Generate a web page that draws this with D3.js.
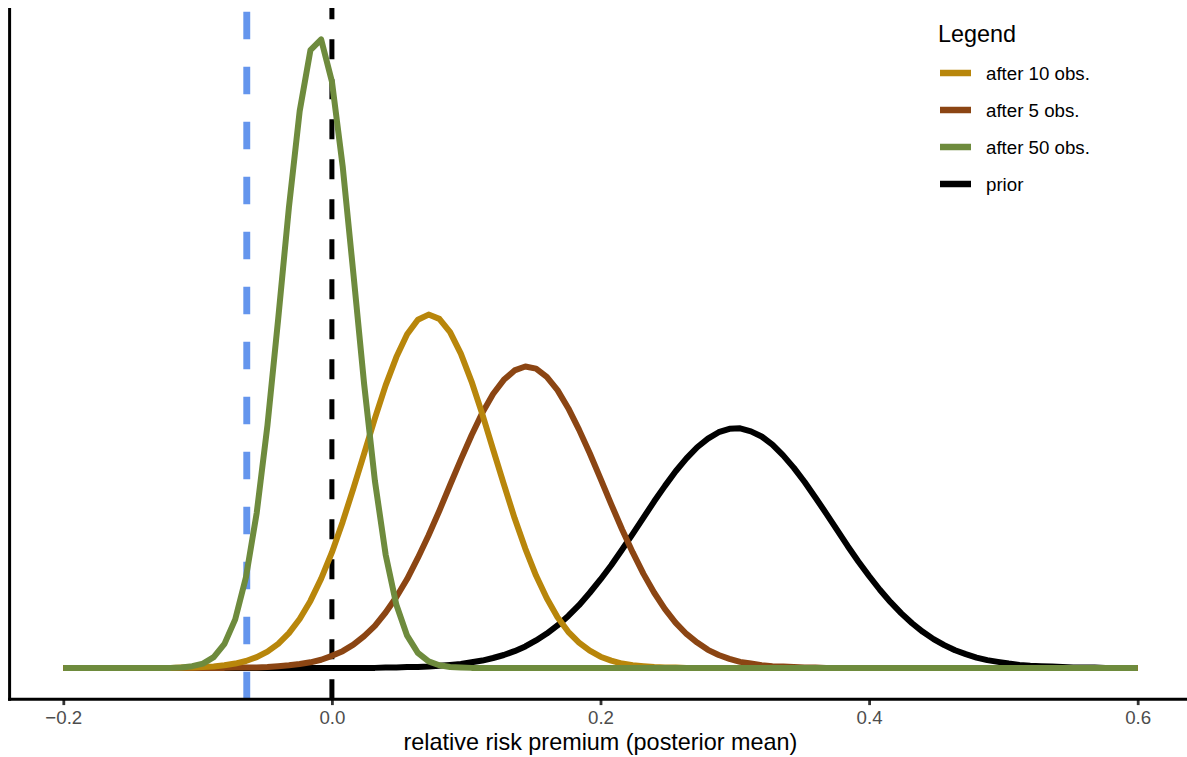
<!DOCTYPE html>
<html>
<head>
<meta charset="utf-8">
<script src="https://cdn.jsdelivr.net/npm/d3@7"></script>
<style>
  html, body { margin: 0; padding: 0; background: #ffffff; }
  svg { display: block; font-family: "Liberation Sans", Arial, Helvetica, sans-serif; }
</style>
</head>
<body>
<svg id="chart" width="1187" height="757"></svg>
<script>
// Evaluation grid for the densities (relative risk premium)
const xGrid = [
  -0.2, -0.192, -0.184, -0.176, -0.168, -0.16, -0.152, -0.144, -0.136, -0.128,
  -0.12, -0.112, -0.104, -0.096, -0.088, -0.08, -0.072, -0.064, -0.056, -0.048,
  -0.04, -0.032, -0.024, -0.016, -0.008, 0, 0.008, 0.016, 0.024, 0.032,
  0.04, 0.048, 0.056, 0.064, 0.072, 0.08, 0.088, 0.096, 0.104, 0.112,
  0.12, 0.128, 0.136, 0.144, 0.152, 0.16, 0.168, 0.176, 0.184, 0.192,
  0.2, 0.208, 0.216, 0.224, 0.232, 0.24, 0.248, 0.256, 0.264, 0.272,
  0.28, 0.288, 0.296, 0.304, 0.312, 0.32, 0.328, 0.336, 0.344, 0.352,
  0.36, 0.368, 0.376, 0.384, 0.392, 0.4, 0.408, 0.416, 0.424, 0.432,
  0.44, 0.448, 0.456, 0.464, 0.472, 0.48, 0.488, 0.496, 0.504, 0.512,
  0.52, 0.528, 0.536, 0.544, 0.552, 0.56, 0.568, 0.576, 0.584, 0.592,
  0.6
];

// Prior density
const prior = [
  0, 0, 0, 0, 0, 0, 0, 0, 0, 0,
  0, 0, 0, 0, 0, 0, 0, 0, 0, 0,
  0, 0, 0, 0, 0, 0, 0, 0, 0, 0,
  0.01, 0.01, 0.02, 0.02, 0.03, 0.05, 0.07, 0.09, 0.13, 0.17,
  0.23, 0.30, 0.39, 0.50, 0.64, 0.80, 0.99, 1.21, 1.46, 1.75,
  2.06, 2.39, 2.75, 3.12, 3.50, 3.88, 4.24, 4.58, 4.88, 5.14,
  5.34, 5.49, 5.57, 5.58, 5.51, 5.39, 5.20, 4.95, 4.66, 4.33,
  3.97, 3.60, 3.22, 2.84, 2.48, 2.14, 1.82, 1.53, 1.27, 1.04,
  0.84, 0.67, 0.53, 0.41, 0.32, 0.24, 0.18, 0.14, 0.10, 0.07,
  0.05, 0.04, 0.03, 0.02, 0.01, 0.01, 0.01, 0, 0, 0,
  0
];

// Posterior density after 5 observations
const after5 = [
  0, 0, 0, 0, 0, 0, 0, 0, 0, 0,
  0, 0, 0, 0, 0, 0, 0.01, 0.01, 0.01, 0.02,
  0.04, 0.06, 0.09, 0.13, 0.19, 0.28, 0.39, 0.54, 0.74, 0.98,
  1.29, 1.65, 2.07, 2.56, 3.09, 3.66, 4.26, 4.85, 5.42, 5.94,
  6.38, 6.71, 6.93, 7.02, 6.97, 6.78, 6.47, 6.05, 5.55, 5.00,
  4.41, 3.81, 3.23, 2.69, 2.19, 1.75, 1.37, 1.05, 0.79, 0.59,
  0.42, 0.30, 0.21, 0.14, 0.10, 0.06, 0.04, 0.03, 0.02, 0.01,
  0.01, 0, 0, 0, 0, 0, 0, 0, 0, 0,
  0, 0, 0, 0, 0, 0, 0, 0, 0, 0,
  0, 0, 0, 0, 0, 0, 0, 0, 0, 0,
  0
];

// Posterior density after 10 observations
const after10 = [
  0, 0, 0, 0, 0, 0, 0, 0, 0, 0,
  0, 0.01, 0.01, 0.02, 0.03, 0.06, 0.10, 0.16, 0.25, 0.38,
  0.56, 0.81, 1.14, 1.56, 2.08, 2.69, 3.40, 4.18, 4.99, 5.81,
  6.58, 7.24, 7.77, 8.11, 8.23, 8.13, 7.82, 7.32, 6.67, 5.91,
  5.09, 4.28, 3.49, 2.78, 2.15, 1.62, 1.18, 0.84, 0.59, 0.40,
  0.26, 0.17, 0.10, 0.06, 0.04, 0.02, 0.01, 0.01, 0, 0,
  0, 0, 0, 0, 0, 0, 0, 0, 0, 0,
  0, 0, 0, 0, 0, 0, 0, 0, 0, 0,
  0, 0, 0, 0, 0, 0, 0, 0, 0, 0,
  0, 0, 0, 0, 0, 0, 0, 0, 0, 0,
  0
];

// Posterior density after 50 observations
const after50 = [
  0, 0, 0, 0, 0, 0, 0, 0, 0, 0,
  0, 0.01, 0.04, 0.10, 0.25, 0.56, 1.13, 2.11, 3.61, 5.65,
  8.13, 10.73, 12.97, 14.39, 14.64, 13.66, 11.69, 9.18, 6.61, 4.36,
  2.64, 1.47, 0.75, 0.35, 0.15, 0.06, 0.02, 0.01, 0, 0,
  0, 0, 0, 0, 0, 0, 0, 0, 0, 0,
  0, 0, 0, 0, 0, 0, 0, 0, 0, 0,
  0, 0, 0, 0, 0, 0, 0, 0, 0, 0,
  0, 0, 0, 0, 0, 0, 0, 0, 0, 0,
  0, 0, 0, 0, 0, 0, 0, 0, 0, 0,
  0, 0, 0, 0, 0, 0, 0, 0, 0, 0,
  0
];

// Legend entries (in legend order) and their colours
const legendLabels = ["after 10 obs.", "after 5 obs.", "after 50 obs.", "prior"];
const legendColors = ["#B8860B", "#8B4513", "#6E8B3D", "#000000"];

// Reference lines: sample mean of the observations and zero
const sampleMean = -0.0634;
const zeroLine = 0;

// Axis ticks
const xTickValues = [-0.2, 0, 0.2, 0.4, 0.6];
const xTickLabels = ["\u22120.2", "0.0", "0.2", "0.4", "0.6"];

// ---------------------------------------------------------------------------
const svg = d3.select("#chart");
const panel = { left: 9.6, right: 1191.4, top: 8, bottom: 699.3 };

const xExt = d3.extent(xGrid);
const xPad = 0.05 * (xExt[1] - xExt[0]);
const x = d3.scaleLinear()
  .domain([xExt[0] - xPad, xExt[1] + xPad])
  .range([panel.left, panel.right]);

const allY = [].concat(prior, after5, after10, after50);
const yMax = d3.max(allY);
const yPad = 0.05 * yMax;
const y = d3.scaleLinear()
  .domain([0 - yPad, yMax + yPad])
  .range([panel.bottom, panel.top]);

const colorOf = d3.scaleOrdinal().domain(legendLabels).range(legendColors);

// Vertical reference lines (drawn from the bottom of the panel upward)
svg.append("line")
  .attr("x1", x(sampleMean)).attr("x2", x(sampleMean))
  .attr("y1", panel.bottom).attr("y2", panel.top)
  .attr("stroke", "#6495ED").attr("stroke-width", 6.9)
  .attr("stroke-dasharray", "27.5,27.5");

svg.append("line")
  .attr("x1", x(zeroLine)).attr("x2", x(zeroLine))
  .attr("y1", panel.bottom).attr("y2", panel.top)
  .attr("stroke", "#000000").attr("stroke-width", 5)
  .attr("stroke-dasharray", "20,20");

// Density curves
const line = d3.line()
  .x((d, i) => x(xGrid[i]))
  .y(d => y(d));

const drawOrder = [
  { name: "prior", values: prior },
  { name: "after 5 obs.", values: after5 },
  { name: "after 10 obs.", values: after10 },
  { name: "after 50 obs.", values: after50 }
];

svg.append("g").selectAll("path")
  .data(drawOrder)
  .join("path")
  .attr("d", d => line(d.values))
  .attr("fill", "none")
  .attr("stroke", d => colorOf(d.name))
  .attr("stroke-width", 6)
  .attr("stroke-linejoin", "round")
  .attr("stroke-linecap", "butt");

// Bottom axis
const xAxis = d3.axisBottom(x)
  .tickValues(xTickValues)
  .tickFormat((d, i) => xTickLabels[i])
  .tickSizeOuter(0)
  .tickSize(5.8);

const gx = svg.append("g")
  .attr("transform", `translate(0,${panel.bottom})`)
  .call(xAxis);
gx.select(".domain").remove();
gx.selectAll(".tick line").attr("stroke", "#333333").attr("stroke-width", 2.8);
gx.selectAll(".tick text")
  .attr("fill", "#4D4D4D")
  .attr("font-size", 18.7)
  .attr("font-family", "\"Liberation Sans\", Arial, sans-serif")
  .attr("y", 25)
  .attr("dy", null);

// Axis lines
svg.append("line")
  .attr("x1", panel.left - 1.5).attr("x2", panel.right)
  .attr("y1", panel.bottom).attr("y2", panel.bottom)
  .attr("stroke", "#000").attr("stroke-width", 3);
svg.append("line")
  .attr("x1", panel.left).attr("x2", panel.left)
  .attr("y1", panel.top).attr("y2", panel.bottom + 1.5)
  .attr("stroke", "#000").attr("stroke-width", 3);

// Axis title
svg.append("text")
  .attr("x", (panel.left + panel.right) / 2)
  .attr("y", 750)
  .attr("text-anchor", "middle")
  .attr("font-size", 23.4)
  .attr("fill", "#000")
  .text("relative risk premium (posterior mean)");

// Legend
const legend = svg.append("g").attr("transform", "translate(938,0)");
legend.append("text")
  .attr("x", 0).attr("y", 41.8)
  .attr("font-size", 23.4)
  .attr("fill", "#000")
  .text("Legend");

const rowY = d3.scalePoint().domain(legendLabels).range([73, 184]);
const rows = legend.selectAll("g.row")
  .data(legendLabels)
  .join("g")
  .attr("class", "row")
  .attr("transform", d => `translate(0,${rowY(d)})`);
rows.append("line")
  .attr("x1", 2).attr("x2", 33)
  .attr("y1", 0).attr("y2", 0)
  .attr("stroke", d => colorOf(d))
  .attr("stroke-width", 6.5);
rows.append("text")
  .attr("x", 48).attr("y", 6.6)
  .attr("font-size", 18.7)
  .attr("fill", "#000")
  .text(d => d);
</script>
</body>
</html>
